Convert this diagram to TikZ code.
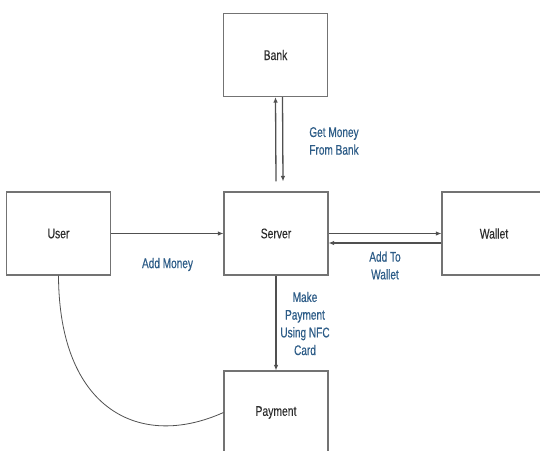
\documentclass[tikz,border=0pt]{standalone}
\usepackage{fontspec}
\setmainfont{Liberation Sans}[FakeStretch=0.74]
\newfontfamily\lblfont{Liberation Sans}[FakeStretch=0.72,FakeBold=0.5]
\newfontfamily\boxfont{Liberation Sans}[FakeStretch=0.74,FakeBold=0.25]
\usetikzlibrary{arrows.meta}
\definecolor{lblue}{RGB}{45,92,135}
\definecolor{boxtext}{RGB}{45,45,45}
\definecolor{linegray}{RGB}{115,115,115}
\definecolor{arrgray}{RGB}{80,80,80}
\tikzset{
  box/.style={draw=linegray, line width=1.1pt, rectangle, minimum width=104pt, minimum height=83pt, inner sep=0pt, text=boxtext, font=\boxfont\fontsize{14}{17}\selectfont},
  arr/.style={draw=arrgray, line width=1.3pt, -{Latex[length=5.5pt,width=4.5pt]}},
  lbl/.style={text=lblue, align=center, font=\lblfont\fontsize{14}{17.7}\selectfont, inner sep=0pt},
  curveline/.style={draw=arrgray, line width=0.8pt}
}
\begin{document}
\begin{tikzpicture}[x=1pt,y=-1pt]
\useasboundingbox (0,0) rectangle (540,450);
\clip (0,0) rectangle (540,450);
\node[box] (bank) at (275.5,55) {Bank};
\node[box] (server) at (276,233.5) {Server};
\node[box] (user) at (58.5,233.5) {User};
\node[box] (wallet) at (494,233.5) {Wallet};
\node[box] (payment) at (276,412.5) {Payment};
% bank <-> server
\draw[arr] ([yshift=10pt]server.north) -- (bank.south);
\draw[arr] ([xshift=7pt]bank.south) -- ([xshift=7pt,yshift=10pt]server.north);
% user -> server
\draw[arr] (user.east) -- (server.west);
% server <-> wallet
\draw[arr] (server.east) -- (wallet.west);
\draw[arr] ([yshift=-9.5pt]wallet.west) -- ([yshift=-9.5pt]server.east);
% server -> payment
\draw[arr] (server.south) -- (payment.north);
% user - payment curve
\draw[curveline] (user.south) .. controls (59,410) and (140,450) .. (payment.west);
% labels
\node[lbl] (lgm) at (334,141) {Get Money\\From Bank};
\node[lbl] (lam) at (167.5,264.5) {Add Money};
\node[lbl] (latw) at (385,265.5) {Add To\\Wallet};
\node[lbl] (lmp) at (305,323.5) {Make\\Payment\\Using NFC\\Card};
\end{tikzpicture}
\end{document}
